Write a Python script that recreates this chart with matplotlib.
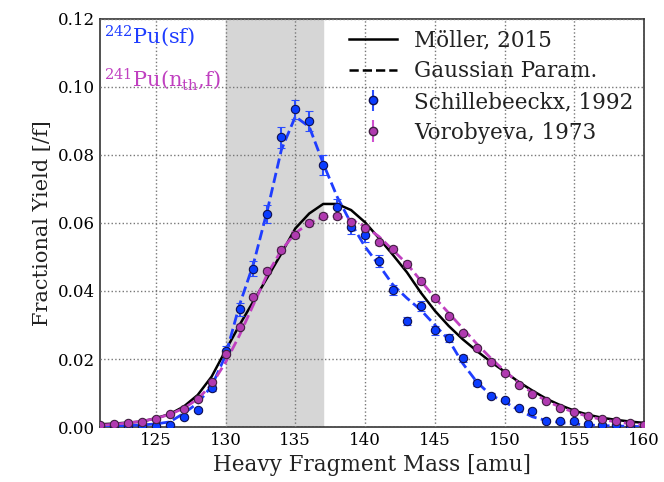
import numpy as np
import matplotlib
matplotlib.use("Agg")
import matplotlib.pyplot as plt
from matplotlib.lines import Line2D

plt.rcParams['font.family'] = 'DejaVu Serif'
plt.rcParams['mathtext.fontset'] = 'dejavuserif'

# masses (amu)
mass = np.arange(121, 161)

# Schillebeeckx, 1992 - 242Pu(sf)
schil_y = [0.0002, 0.0003, 0.0003, 0.0003, 0.0003, 0.0006, 0.0028, 0.0050, 0.0114, 0.0225,
           0.0346, 0.0465, 0.0626, 0.0852, 0.0935, 0.0900, 0.0771, 0.0648, 0.0589, 0.0565,
           0.0488, 0.0403, 0.0312, 0.0356, 0.0285, 0.0263, 0.0202, 0.0130, 0.0092, 0.0079,
           0.0057, 0.0047, 0.0019, 0.0018, 0.0018, 0.0009, 0.0007, 0.0006, 0.0004, 0.0002]
schil_err = [0.0003, 0.0003, 0.0003, 0.0003, 0.0003, 0.0004, 0.0005, 0.0006, 0.0009, 0.0013,
             0.0020, 0.0022, 0.0027, 0.0030, 0.0028, 0.0030, 0.0030, 0.0022, 0.0020, 0.0020,
             0.0018, 0.0015, 0.0013, 0.0015, 0.0013, 0.0012, 0.0010, 0.0008, 0.0007, 0.0006,
             0.0005, 0.0005, 0.0004, 0.0004, 0.0004, 0.0003, 0.0003, 0.0003, 0.0003, 0.0003]

# Vorobyeva, 1973 - 241Pu(nth,f)
voro_y = [0.0006, 0.0008, 0.0011, 0.0016, 0.0024, 0.0037, 0.0053, 0.0081, 0.0133, 0.0215,
          0.0295, 0.0383, 0.0460, 0.0520, 0.0566, 0.0599, 0.0621, 0.0621, 0.0602, 0.0586,
          0.0543, 0.0524, 0.0480, 0.0430, 0.0379, 0.0326, 0.0276, 0.0233, 0.0192, 0.0158,
          0.0124, 0.0096, 0.0076, 0.0057, 0.0043, 0.0032, 0.0024, 0.0018, 0.0011, 0.0006]
voro_err = [0.0002, 0.0002, 0.0002, 0.0003, 0.0003, 0.0003, 0.0004, 0.0004, 0.0005, 0.0006,
            0.0007, 0.0008, 0.0008, 0.0009, 0.0009, 0.0009, 0.0009, 0.0009, 0.0009, 0.0009,
            0.0008, 0.0008, 0.0008, 0.0008, 0.0007, 0.0007, 0.0006, 0.0006, 0.0005, 0.0005,
            0.0004, 0.0004, 0.0003, 0.0003, 0.0003, 0.0002, 0.0002, 0.0002, 0.0002, 0.0002]

# Moller, 2015
moller_y = [0.0008, 0.0010, 0.0013, 0.0016, 0.0026, 0.0038, 0.0060, 0.0094, 0.0148, 0.0225,
            0.0300, 0.0370, 0.0440, 0.0510, 0.0584, 0.0628, 0.0656, 0.0656, 0.0638, 0.0602,
            0.0555, 0.0506, 0.0455, 0.0395, 0.0342, 0.0297, 0.0258, 0.0224, 0.0192, 0.0163,
            0.0133, 0.0107, 0.0083, 0.0064, 0.0048, 0.0036, 0.0027, 0.0021, 0.0016, 0.0012]

# Gaussian parametrisations
gauss_242 = [0.0002, 0.0003, 0.0004, 0.0006, 0.0009, 0.0015, 0.0040, 0.0070, 0.0120, 0.0210,
             0.0359, 0.0480, 0.0638, 0.0815, 0.0913, 0.0883, 0.0775, 0.0677, 0.0599, 0.0530,
             0.0476, 0.0418, 0.0379, 0.0344, 0.0300, 0.0256, 0.0187, 0.0133, 0.0094, 0.0074,
             0.0050, 0.0030, 0.0019, 0.0013, 0.0009, 0.0006, 0.0004, 0.0003, 0.0002, 0.0001]
gauss_241 = [0.0005, 0.0008, 0.0012, 0.0017, 0.0025, 0.0037, 0.0055, 0.0082, 0.0125, 0.0190,
             0.0270, 0.0360, 0.0450, 0.0520, 0.0570, 0.0600, 0.0618, 0.0620, 0.0610, 0.0590,
             0.0560, 0.0520, 0.0480, 0.0430, 0.0380, 0.0335, 0.0290, 0.0245, 0.0203, 0.0165,
             0.0130, 0.0100, 0.0077, 0.0058, 0.0043, 0.0031, 0.0022, 0.0015, 0.0010, 0.0007]

blue = '#1f3dff'
mag = '#c040c0'

fig = plt.figure(figsize=(6.64, 4.82), dpi=100)
ax = fig.add_axes([0.1506, 0.1141, 0.8194, 0.8465])

ax.axvspan(130, 137, color='#d6d6d6', zorder=0)

ax.plot(mass, moller_y, '-', color='black', lw=1.8, zorder=3)
ax.plot(mass, gauss_242, '--', color=blue, lw=2.0, zorder=3)
ax.plot(mass, gauss_241, '--', color=mag, lw=2.0, zorder=3)

ax.errorbar(mass, schil_y, yerr=schil_err, fmt='o', color='#1040ff', mfc='#0a3cff', mec='#101050',
            ms=6, mew=0.8, ecolor='#2a4cff', elinewidth=1.5, capsize=3, capthick=1.5, zorder=4)
ax.errorbar(mass, voro_y, yerr=voro_err, fmt='o', color=mag, mfc='#b03ab0', mec='#402040',
            ms=6, mew=0.8, ecolor='#d050d0', elinewidth=1.5, capsize=3, capthick=1.5, zorder=4)

ax.set_xlim(121, 160)
ax.set_ylim(0, 0.12)
ax.set_xticks([125, 130, 135, 140, 145, 150, 155, 160])
ax.set_yticks([0.00, 0.02, 0.04, 0.06, 0.08, 0.10, 0.12])
ax.yaxis.set_major_formatter(matplotlib.ticker.FormatStrFormatter('%.2f'))
ax.tick_params(labelsize=12, direction='in', length=0)
ax.grid(True, linestyle=':', color='#777777', lw=1.0)
ax.set_axisbelow(False)
for s in ax.spines.values():
    s.set_linewidth(1.2)
    s.set_color('#333333')

ax.set_xlabel('Heavy Fragment Mass [amu]', fontsize=15.5, color='#222222')
ax.set_ylabel('Fractional Yield [/f]', fontsize=15, color='#222222')

ax.text(0.008, 0.99, r'$^{242}$Pu(sf)', transform=ax.transAxes, color=blue,
        fontsize=15, va='top', ha='left')
ax.text(0.008, 0.885, r'$^{241}$Pu(n$_{\rm th}$,f)', transform=ax.transAxes, color=mag,
        fontsize=15, va='top', ha='left')

h1 = Line2D([], [], color='black', lw=1.8, ls='-')
h2 = Line2D([], [], color='black', lw=1.8, ls='--')
h3 = ax.errorbar([], [], yerr=[], fmt='o', mfc='#0a3cff', mec='#101050', ms=6,
                 ecolor='#2a4cff', elinewidth=1.5, capsize=3)
h4 = ax.errorbar([], [], yerr=[], fmt='o', mfc='#b03ab0', mec='#402040', ms=6,
                 ecolor='#d050d0', elinewidth=1.5, capsize=3)
leg = ax.legend([h1, h2, h3, h4],
                ['Möller, 2015', 'Gaussian Param.', 'Schillebeeckx, 1992', 'Vorobyeva, 1973'],
                loc='upper right', fontsize=15.5, frameon=False, handlelength=2.2,
                handletextpad=0.8, borderaxespad=0.1, labelspacing=0.4)
for t in leg.get_texts():
    t.set_color('#222222')

fig.savefig('out.png', dpi=100)
